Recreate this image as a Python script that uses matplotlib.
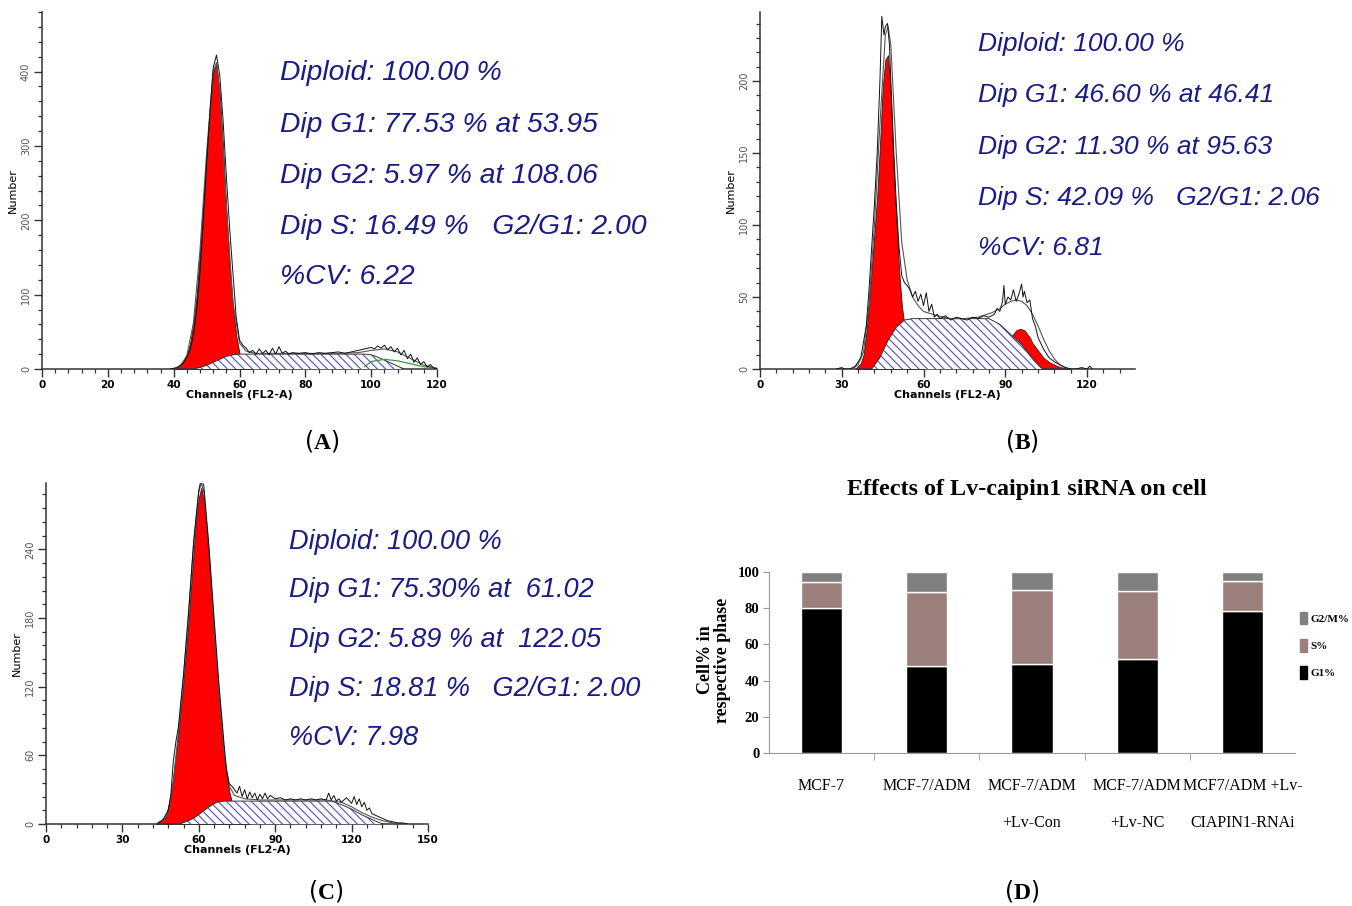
import matplotlib.pyplot as plt
from matplotlib.ticker import MultipleLocator
from matplotlib.patches import Patch
import numpy as np

W, H = 1352, 906
plt.rcParams['mathtext.fontset'] = 'custom'
plt.rcParams['mathtext.bf'] = 'Liberation Serif:bold'
plt.rcParams['mathtext.rm'] = 'Liberation Serif'
plt.rcParams['hatch.linewidth'] = 0.8

# ---- panel A (channel, count) ----
a_g1_x = [40, 42, 44, 45, 46, 47, 48, 49, 50, 51, 52, 53, 54, 55, 56, 57, 58, 59, 60, 61, 62, 64]
a_g1_y = [0, 4, 18, 35, 62, 100, 160, 225, 290, 350, 400, 410, 370, 300, 215, 140, 85, 45, 21, 10, 4, 0]
a_s_x = [46, 48, 50, 52, 54, 56, 58, 60, 70, 80, 90, 98, 100, 102, 104, 106, 108, 110]
a_s_y = [0, 2, 5, 9, 13, 17, 19, 20, 20, 20, 20, 20, 19, 16, 12, 8, 4, 0]
a_raw_x = [39, 41, 43, 45, 46, 47, 48, 49, 50, 51, 52, 53, 54, 55, 56, 57, 58, 59, 60, 61, 62, 63, 64,
           65, 66, 67, 68, 69, 70, 71, 72, 73, 74, 75, 76, 78, 80, 82, 84, 86, 88, 90, 92, 94, 96, 98,
           100, 101, 102, 103, 104, 105, 106, 107, 108, 109, 110, 111, 112, 113, 114, 115, 116, 117,
           118, 119, 120]
a_raw_y = [0, 2, 8, 25, 45, 80, 130, 200, 275, 345, 405, 422, 395, 335, 260, 190, 129, 70, 39, 32, 28,
           22, 25, 20, 27, 21, 25, 19, 28, 20, 30, 21, 24, 20, 22, 21, 22, 20, 22, 21, 22, 23, 21, 23,
           25, 27, 29, 27, 31, 28, 32, 26, 30, 23, 28, 19, 25, 14, 20, 9, 15, 6, 10, 3, 6, 1, 0]
a_fit_x = [40, 42, 44, 46, 48, 50, 52, 53, 54, 56, 58, 60, 62, 65, 70, 80, 90, 96, 100, 104, 108, 112, 116, 120]
a_fit_y = [0, 4, 18, 62, 160, 290, 400, 412, 372, 218, 90, 35, 24, 21, 21, 21, 21, 22, 25, 27, 23, 14, 5, 1]
a_g2_x = [98, 100, 104, 108, 112, 116, 120]
a_g2_y = [3, 10, 13, 11, 7, 3, 1]
a_text = ["Diploid: 100.00 %", "Dip G1: 77.53 % at 53.95", "Dip G2: 5.97 % at 108.06",
          "Dip S: 16.49 %   G2/G1: 2.00", "%CV: 6.22"]

# ---- panel B ----
b_g1_x = [35, 37, 38, 39, 40, 41, 42, 43, 44, 45, 46, 47, 48, 49, 50, 51, 52, 53, 54, 56, 58, 60]
b_g1_y = [0, 4, 10, 25, 45, 70, 95, 120, 155, 195, 215, 218, 190, 141, 105, 70, 45, 30, 18, 6, 1, 0]
b_s_x = [41, 44, 47, 50, 53, 56, 60, 70, 80, 84, 88, 92, 96, 100, 103, 104]
b_s_y = [0, 8, 20, 29, 34, 35, 35, 35, 35, 35, 31, 24, 17, 7, 1, 0]
b_g2_x = [90, 92, 94, 95.5, 97, 99, 100, 102, 104, 106, 108, 110, 112, 114]
b_g2_y = [5, 22, 27, 28, 27, 22, 18, 13, 8, 5, 3, 1.5, 0.5, 0]
b_raw_x = [28, 30, 31, 33, 35, 37, 39, 40, 41, 42, 43, 44, 44.7, 45.5, 46, 46.8, 47.5, 48, 49, 50, 51,
           52, 53, 54, 55, 56, 57, 58, 59, 60, 61, 62, 63, 64, 65, 66, 68, 70, 72, 74, 76, 78, 80, 82,
           84, 86, 87, 88, 89, 89.5, 90, 91, 92, 93, 94, 95, 96, 96.5, 97, 98, 99, 100, 101, 102, 104,
           106, 108, 110, 112, 114, 116, 118, 120, 121, 122]
b_raw_y = [0, 1, 0, 0, 2, 8, 30, 55, 85, 115, 150, 200, 245, 232, 238, 240, 225, 200, 155, 115, 85,
           65, 60, 58, 55, 50, 54, 47, 52, 44, 53, 40, 45, 36, 38, 35, 37, 34, 36, 35, 34, 36, 35, 37,
           36, 38, 42, 40, 47, 58, 45, 50, 48, 55, 47, 52, 59, 50, 54, 46, 48, 35, 30, 22, 14, 8, 5, 3,
           1, 0, 0, 1, 0, 2, 0]
b_fit_x = [34, 36, 38, 40, 42, 44, 46, 47, 48, 50, 52, 54, 56, 58, 60, 65, 70, 75, 80, 85, 88, 90, 92,
           94, 96, 98, 100, 102, 104, 106, 108, 110, 112, 114]
b_fit_y = [0, 3, 12, 45, 100, 170, 232, 238, 225, 150, 88, 62, 50, 44, 40, 37, 35, 35, 36, 39, 42, 45,
           47, 48, 47, 44, 38, 30, 21, 13, 7, 3, 1, 0]
b_text = ["Diploid: 100.00 %", "Dip G1: 46.60 % at 46.41", "Dip G2: 11.30 % at 95.63",
          "Dip S: 42.09 %   G2/G1: 2.06", "%CV: 6.81"]

# ---- panel C ----
c_g1_x = [43, 45, 47, 49, 50, 52, 54, 56, 58, 59, 60, 61, 62, 63, 64, 66, 68, 70, 72, 73, 75, 78, 80]
c_g1_y = [0, 2, 6, 25, 42, 80, 125, 178, 240, 268, 285, 294, 282, 258, 230, 165, 110, 58, 28, 19, 9, 2, 0]
c_s_x = [52, 55, 58, 61, 64, 67, 70, 80, 90, 100, 112, 116, 120, 124, 128, 131, 133]
c_s_y = [0, 2, 5, 10, 15, 19, 20, 20, 20, 20, 20, 17, 13, 8, 4, 1, 0]
c_raw_x = [44, 46, 48, 49, 50, 51, 52, 53, 54, 56, 58, 60, 61, 62, 64, 66, 68, 70, 71, 72, 73, 74, 75,
           76, 77, 78, 79, 80, 81, 82, 83, 84, 85, 86, 87, 88, 90, 92, 94, 96, 98, 100, 102, 104, 106,
           108, 110, 111, 112, 113, 114, 115, 116, 118, 120, 121, 122, 123, 124, 125, 126, 127, 128,
           130, 132, 134, 136, 138, 140, 142]
c_raw_y = [1, 4, 12, 25, 55, 72, 85, 108, 130, 185, 248, 292, 302, 295, 242, 180, 120, 68, 45, 35, 33,
           30, 27, 33, 24, 30, 22, 28, 23, 27, 21, 26, 22, 27, 22, 25, 22, 23, 21, 22, 21, 22, 21, 22,
           21, 22, 21, 27, 21, 25, 20, 22, 19, 23, 18, 24, 17, 22, 15, 19, 12, 14, 9, 7, 5, 3, 2, 1, 1, 0]
c_fit_x = [43, 46, 48, 50, 52, 54, 56, 58, 60, 61, 62, 64, 66, 68, 70, 72, 74, 78, 84, 90, 100, 110,
           116, 120, 124, 128, 132, 136, 140]
c_fit_y = [0, 3, 10, 38, 80, 130, 185, 245, 290, 298, 290, 240, 172, 112, 60, 33, 25, 22, 21, 21, 21,
           21, 19, 15, 10, 6, 3, 1, 0]
c_text = ["Diploid: 100.00 %", "Dip G1: 75.30% at  61.02", "Dip G2: 5.89 % at  122.05",
          "Dip S: 18.81 %   G2/G1: 2.00", "%CV: 7.98"]

# ---- panel D ----
groups = ["MCF-7", "MCF-7/ADM", "MCF-7/ADM\n+Lv-Con", "MCF-7/ADM\n+Lv-NC", "MCF7/ADM +Lv-\nCIAPIN1-RNAi"]
g1_pct = [80, 48, 49, 52, 78.5]
s_pct = [14.5, 41, 41, 37.5, 16.5]
g2m_pct = [5.5, 11, 10, 10.5, 5]

fig = plt.figure(figsize=(W / 100, H / 100), dpi=100)


def rect(l, t, r, b):
    return [l / W, 1 - b / H, (r - l) / W, (b - t) / H]


def flow_panel(box, xmax, ymax, xmaj, xmin, ymaj, ymin, g1, s, raw, fit, g2=None, g2line=None):
    ax = fig.add_axes(box)
    ax.fill_between(g1[0], g1[1], color='#ff0000', edgecolor='#222222', lw=0.6, zorder=2)
    if g2 is not None:
        ax.fill_between(g2[0], g2[1], color='#ff0000', edgecolor='#222222', lw=0.5, zorder=2)
    ax.fill_between(s[0], s[1], facecolor='white', edgecolor='#5050c8', hatch='\\\\\\\\', lw=0, zorder=3)
    ax.plot(s[0], s[1], color='#333333', lw=0.7, zorder=4)
    if g2line is not None:
        ax.plot(g2line[0], g2line[1], color='#3a9a3a', lw=0.9, zorder=4)
    ax.plot(fit[0], fit[1], color='#555555', lw=0.8, zorder=5)
    ax.plot(raw[0], raw[1], color='#111111', lw=0.7, zorder=5)
    ax.set_xlim(0, xmax)
    ax.set_ylim(0, ymax)
    for side in ['top', 'right']:
        ax.spines[side].set_visible(False)
    for side in ['left', 'bottom']:
        ax.spines[side].set_color('#333333')
        ax.spines[side].set_linewidth(1.1)
    ax.xaxis.set_major_locator(MultipleLocator(xmaj))
    ax.xaxis.set_minor_locator(MultipleLocator(xmin))
    ax.yaxis.set_major_locator(MultipleLocator(ymaj))
    ax.yaxis.set_minor_locator(MultipleLocator(ymin))
    ax.tick_params(which='major', length=6, width=1, color='#333333')
    ax.tick_params(which='minor', length=3, width=0.9, color='#333333')
    ax.tick_params(axis='x', labelsize=7.5, pad=2)
    ax.tick_params(axis='y', labelsize=7, labelrotation=90, pad=2, labelcolor='#555555')
    for t in ax.get_xticklabels():
        t.set_fontweight('bold')
    for t in ax.get_yticklabels():
        t.set_va('center')
    ax.set_xlabel('Channels (FL2-A)', fontsize=8, fontweight='bold', labelpad=0)
    ax.set_ylabel('Number', fontsize=8, labelpad=2)
    return ax


flow_panel(rect(42, 12, 437, 369), 120, 480, 20, 4, 100, 20,
           (a_g1_x, a_g1_y), (a_s_x, a_s_y), (a_raw_x, a_raw_y), (a_fit_x, a_fit_y),
           g2line=(a_g2_x, a_g2_y))
flow_panel(rect(760, 12, 1135, 369), 137.6, 248, 30, 6, 50, 10,
           (b_g1_x, b_g1_y), (b_s_x, b_s_y), (b_raw_x, b_raw_y), (b_fit_x, b_fit_y),
           g2=(b_g2_x, b_g2_y))
flow_panel(rect(46, 483, 428, 824), 150, 298, 30, 6, 60, 12,
           (c_g1_x, c_g1_y), (c_s_x, c_s_y), (c_raw_x, c_raw_y), (c_fit_x, c_fit_y))

# statistics text blocks
navy = '#1b1b86'
for lines, x0, ys, fs in [(a_text, 280, [73, 125, 176, 227, 277], 20.3),
                          (b_text, 978, [44, 95, 147, 198, 248], 19),
                          (c_text, 289, [542, 590, 640, 689, 738], 19.5)]:
    for s, y in zip(lines, ys):
        fig.text(x0 / W, 1 - y / H, s, fontsize=fs, style='italic', color=navy,
                 family='Liberation Sans', va='center', ha='left')

# panel D stacked bars
axd = fig.add_axes(rect(769, 572, 1295, 753))
xpos = np.arange(len(groups))
c_g1, c_s, c_g2 = '#000000', '#9b7f7b', '#808080'
axd.bar(xpos, g1_pct, width=0.39, color=c_g1, edgecolor='white', lw=1)
axd.bar(xpos, s_pct, width=0.39, bottom=g1_pct, color=c_s, edgecolor='white', lw=1)
axd.bar(xpos, g2m_pct, width=0.39, bottom=np.add(g1_pct, s_pct), color=c_g2, edgecolor='white', lw=1)
axd.set_xlim(-0.5, len(groups) - 0.5)
axd.set_ylim(0, 100)
for side in ['top', 'right']:
    axd.spines[side].set_visible(False)
axd.spines['left'].set_color('#999999')
axd.spines['bottom'].set_color('#999999')
axd.set_yticks([0, 20, 40, 60, 80, 100])
axd.set_yticklabels(['0', '20', '40', '60', '80', '100'], family='Liberation Serif',
                    fontweight='bold', fontsize=10.5)
axd.tick_params(axis='y', length=4, color='#999999', pad=3)
axd.set_xticks(xpos)
axd.set_xticklabels(groups, family='Liberation Serif', fontsize=11.5, linespacing=2.75, va='top')
axd.tick_params(axis='x', length=0, pad=18)
axd.set_xticks(np.arange(0.5, len(groups) - 1, 1), minor=True)
axd.tick_params(axis='x', which='minor', length=5, color='#999999')

fig.text(714 / W, 1 - 660 / H, 'Cell% in\nrespective phase', rotation=90, ha='center', va='center',
         family='Liberation Serif', fontweight='bold', fontsize=13, linespacing=0.95)
fig.text(1027 / W, 1 - 489 / H, 'Effects of Lv-caipin1 siRNA on cell', ha='center', va='center',
         family='Liberation Serif', fontweight='bold', fontsize=17.4)

handles = [Patch(color=c_g2, label='G2/M%'), Patch(color=c_s, label='S%'), Patch(color=c_g1, label='G1%')]
fig.legend(handles=handles, loc='upper left', bbox_to_anchor=(1294 / W, 1 - 606 / H), frameon=False,
           prop={'family': 'Liberation Serif', 'weight': 'bold', 'size': 8}, handlelength=0.7,
           handleheight=1.4, handletextpad=0.25, labelspacing=1.3, borderpad=0)

# panel letters
for lab, x, y in [('A', 322, 441), ('B', 1022, 441), ('C', 326, 891), ('D', 1022, 891)]:
    fig.text(x / W, 1 - y / H, '($\\mathbf{%s}$)' % lab, ha='center', va='center', fontsize=17)

fig.savefig('out.png', dpi=100)
